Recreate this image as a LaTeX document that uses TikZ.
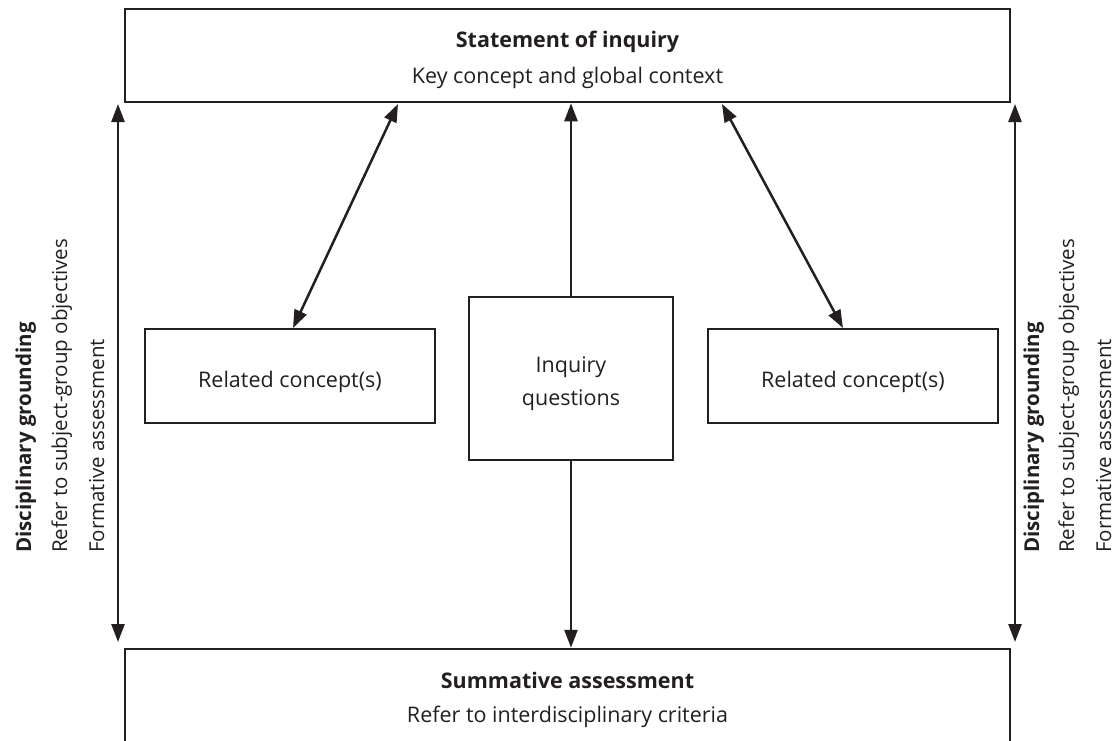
\documentclass[tikz,border=0pt]{standalone}
\usepackage{fontspec}
\setmainfont{Open Sans}
\usetikzlibrary{arrows.meta}
\definecolor{ink}{HTML}{231F20}
\tikzset{
  box/.style={draw=ink, line width=2.5pt, rectangle, inner sep=0pt},
  lbl/.style={text=ink, font=\fontsize{21.5}{26}\selectfont, inner sep=0pt, anchor=base},
  blbl/.style={lbl, font=\fontsize{21.5}{26}\selectfont\bfseries},
  slbl/.style={text=ink, font=\fontsize{20.5}{25}\selectfont, inner sep=0pt, rotate=90, anchor=base west},
  sblbl/.style={slbl, font=\fontsize{20.5}{25}\selectfont\bfseries},
  conn/.style={draw=ink, line width=2.5pt},
  tip/.style={-{Triangle[length=18pt,width=13pt]}},
  dtip/.style={{Triangle[length=18pt,width=13pt]}-{Triangle[length=18pt,width=13pt]}}
}
\begin{document}
\begin{tikzpicture}[x=1pt,y=-1pt]
\useasboundingbox[fill=white] (0,0) rectangle (1117,740);
% boxes
\node[box, minimum width=885, minimum height=93] (top) at (567.5,55.5) {};
\node[box, minimum width=885, minimum height=151] (bot) at (567.5,724.5) {};
\node[box, minimum width=290, minimum height=94] (rel1) at (290,376) {};
\node[box, minimum width=204, minimum height=163] (mid) at (571,378.5) {};
\node[box, minimum width=290, minimum height=94] (rel2) at (853,376) {};
% texts
\node[blbl] (t1) at (567.5,47) {Statement of inquiry};
\node[lbl] (t2) at (567.5,83) {Key concept and global context};
\node[blbl] (b1) at (567.5,688) {Summative assessment};
\node[lbl] (b2) at (567.5,722) {Refer to interdisciplinary criteria};
\node[lbl] (r1) at (290,387) {Related concept(s)};
\node[lbl] (r2) at (853,387) {Related concept(s)};
\node[lbl] (q1) at (571,372) {Inquiry};
\node[lbl] (q2) at (571,405) {questions};
% side texts
\node[sblbl] (l1) at (31,553) {Disciplinary grounding};
\node[slbl] (l2) at (67,553) {Refer to subject-group objectives};
\node[slbl] (l3) at (104,553) {Formative assessment};
\node[sblbl] (s1) at (1039,553) {Disciplinary grounding};
\node[slbl] (s2) at (1074,553) {Refer to subject-group objectives};
\node[slbl] (s3) at (1111,553) {Formative assessment};
% connector endpoints
\coordinate (la) at (118,104);
\coordinate (lb) at (118,642);
\coordinate (ra) at (1015,104);
\coordinate (rb) at (1015,642);
\coordinate (d1a) at (398,104);
\coordinate (d1b) at (293,328);
\coordinate (d2a) at (722,104);
\coordinate (d2b) at (843,328);
% connectors
\draw[conn, dtip] (la) -- (lb);
\draw[conn, dtip] (ra) -- (rb);
\draw[conn, dtip] (d1b) -- (d1a);
\draw[conn, dtip] (d2b) -- (d2a);
\draw[conn, tip] (mid.north) -- (mid.north |- top.south);
\draw[conn, tip] (mid.south) -- (mid.south |- bot.north);
\end{tikzpicture}
\end{document}
